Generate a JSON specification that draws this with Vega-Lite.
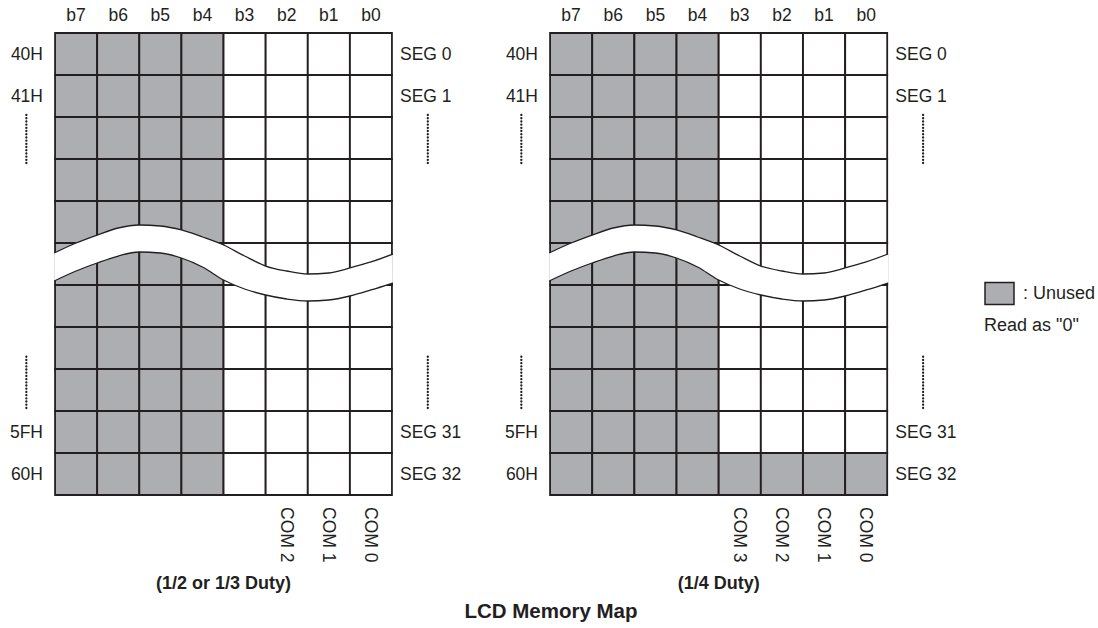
{
  "$schema": "https://vega.github.io/schema/vega-lite/v6.json",
  "width": 1098,
  "height": 628,
  "autosize": {"type": "fit", "contains": "padding"},
  "padding": 0,
  "background": "white",
  "config": {
    "view": {"stroke": null},
    "axis": {"disable": true},
    "text": {"font": "Liberation Sans", "fontSize": 17.5, "fill": "#231f20"}
  },
  "datasets": {
    "cellsA": [
      {"row":0,"bit":7,"status":"Unused"},{"row":0,"bit":6,"status":"Unused"},{"row":0,"bit":5,"status":"Unused"},{"row":0,"bit":4,"status":"Unused"},{"row":0,"bit":3,"status":"Used"},{"row":0,"bit":2,"status":"Used"},{"row":0,"bit":1,"status":"Used"},{"row":0,"bit":0,"status":"Used"},
      {"row":1,"bit":7,"status":"Unused"},{"row":1,"bit":6,"status":"Unused"},{"row":1,"bit":5,"status":"Unused"},{"row":1,"bit":4,"status":"Unused"},{"row":1,"bit":3,"status":"Used"},{"row":1,"bit":2,"status":"Used"},{"row":1,"bit":1,"status":"Used"},{"row":1,"bit":0,"status":"Used"},
      {"row":2,"bit":7,"status":"Unused"},{"row":2,"bit":6,"status":"Unused"},{"row":2,"bit":5,"status":"Unused"},{"row":2,"bit":4,"status":"Unused"},{"row":2,"bit":3,"status":"Used"},{"row":2,"bit":2,"status":"Used"},{"row":2,"bit":1,"status":"Used"},{"row":2,"bit":0,"status":"Used"},
      {"row":3,"bit":7,"status":"Unused"},{"row":3,"bit":6,"status":"Unused"},{"row":3,"bit":5,"status":"Unused"},{"row":3,"bit":4,"status":"Unused"},{"row":3,"bit":3,"status":"Used"},{"row":3,"bit":2,"status":"Used"},{"row":3,"bit":1,"status":"Used"},{"row":3,"bit":0,"status":"Used"},
      {"row":4,"bit":7,"status":"Unused"},{"row":4,"bit":6,"status":"Unused"},{"row":4,"bit":5,"status":"Unused"},{"row":4,"bit":4,"status":"Unused"},{"row":4,"bit":3,"status":"Used"},{"row":4,"bit":2,"status":"Used"},{"row":4,"bit":1,"status":"Used"},{"row":4,"bit":0,"status":"Used"},
      {"row":5,"bit":7,"status":"Unused"},{"row":5,"bit":6,"status":"Unused"},{"row":5,"bit":5,"status":"Unused"},{"row":5,"bit":4,"status":"Unused"},{"row":5,"bit":3,"status":"Used"},{"row":5,"bit":2,"status":"Used"},{"row":5,"bit":1,"status":"Used"},{"row":5,"bit":0,"status":"Used"},
      {"row":6,"bit":7,"status":"Unused"},{"row":6,"bit":6,"status":"Unused"},{"row":6,"bit":5,"status":"Unused"},{"row":6,"bit":4,"status":"Unused"},{"row":6,"bit":3,"status":"Used"},{"row":6,"bit":2,"status":"Used"},{"row":6,"bit":1,"status":"Used"},{"row":6,"bit":0,"status":"Used"},
      {"row":7,"bit":7,"status":"Unused"},{"row":7,"bit":6,"status":"Unused"},{"row":7,"bit":5,"status":"Unused"},{"row":7,"bit":4,"status":"Unused"},{"row":7,"bit":3,"status":"Used"},{"row":7,"bit":2,"status":"Used"},{"row":7,"bit":1,"status":"Used"},{"row":7,"bit":0,"status":"Used"},
      {"row":8,"bit":7,"status":"Unused"},{"row":8,"bit":6,"status":"Unused"},{"row":8,"bit":5,"status":"Unused"},{"row":8,"bit":4,"status":"Unused"},{"row":8,"bit":3,"status":"Used"},{"row":8,"bit":2,"status":"Used"},{"row":8,"bit":1,"status":"Used"},{"row":8,"bit":0,"status":"Used"},
      {"row":9,"bit":7,"status":"Unused"},{"row":9,"bit":6,"status":"Unused"},{"row":9,"bit":5,"status":"Unused"},{"row":9,"bit":4,"status":"Unused"},{"row":9,"bit":3,"status":"Used"},{"row":9,"bit":2,"status":"Used"},{"row":9,"bit":1,"status":"Used"},{"row":9,"bit":0,"status":"Used"},
      {"row":10,"bit":7,"status":"Unused"},{"row":10,"bit":6,"status":"Unused"},{"row":10,"bit":5,"status":"Unused"},{"row":10,"bit":4,"status":"Unused"},{"row":10,"bit":3,"status":"Used"},{"row":10,"bit":2,"status":"Used"},{"row":10,"bit":1,"status":"Used"},{"row":10,"bit":0,"status":"Used"}
    ],
    "cellsB": [
      {"row":0,"bit":7,"status":"Unused"},{"row":0,"bit":6,"status":"Unused"},{"row":0,"bit":5,"status":"Unused"},{"row":0,"bit":4,"status":"Unused"},{"row":0,"bit":3,"status":"Used"},{"row":0,"bit":2,"status":"Used"},{"row":0,"bit":1,"status":"Used"},{"row":0,"bit":0,"status":"Used"},
      {"row":1,"bit":7,"status":"Unused"},{"row":1,"bit":6,"status":"Unused"},{"row":1,"bit":5,"status":"Unused"},{"row":1,"bit":4,"status":"Unused"},{"row":1,"bit":3,"status":"Used"},{"row":1,"bit":2,"status":"Used"},{"row":1,"bit":1,"status":"Used"},{"row":1,"bit":0,"status":"Used"},
      {"row":2,"bit":7,"status":"Unused"},{"row":2,"bit":6,"status":"Unused"},{"row":2,"bit":5,"status":"Unused"},{"row":2,"bit":4,"status":"Unused"},{"row":2,"bit":3,"status":"Used"},{"row":2,"bit":2,"status":"Used"},{"row":2,"bit":1,"status":"Used"},{"row":2,"bit":0,"status":"Used"},
      {"row":3,"bit":7,"status":"Unused"},{"row":3,"bit":6,"status":"Unused"},{"row":3,"bit":5,"status":"Unused"},{"row":3,"bit":4,"status":"Unused"},{"row":3,"bit":3,"status":"Used"},{"row":3,"bit":2,"status":"Used"},{"row":3,"bit":1,"status":"Used"},{"row":3,"bit":0,"status":"Used"},
      {"row":4,"bit":7,"status":"Unused"},{"row":4,"bit":6,"status":"Unused"},{"row":4,"bit":5,"status":"Unused"},{"row":4,"bit":4,"status":"Unused"},{"row":4,"bit":3,"status":"Used"},{"row":4,"bit":2,"status":"Used"},{"row":4,"bit":1,"status":"Used"},{"row":4,"bit":0,"status":"Used"},
      {"row":5,"bit":7,"status":"Unused"},{"row":5,"bit":6,"status":"Unused"},{"row":5,"bit":5,"status":"Unused"},{"row":5,"bit":4,"status":"Unused"},{"row":5,"bit":3,"status":"Used"},{"row":5,"bit":2,"status":"Used"},{"row":5,"bit":1,"status":"Used"},{"row":5,"bit":0,"status":"Used"},
      {"row":6,"bit":7,"status":"Unused"},{"row":6,"bit":6,"status":"Unused"},{"row":6,"bit":5,"status":"Unused"},{"row":6,"bit":4,"status":"Unused"},{"row":6,"bit":3,"status":"Used"},{"row":6,"bit":2,"status":"Used"},{"row":6,"bit":1,"status":"Used"},{"row":6,"bit":0,"status":"Used"},
      {"row":7,"bit":7,"status":"Unused"},{"row":7,"bit":6,"status":"Unused"},{"row":7,"bit":5,"status":"Unused"},{"row":7,"bit":4,"status":"Unused"},{"row":7,"bit":3,"status":"Used"},{"row":7,"bit":2,"status":"Used"},{"row":7,"bit":1,"status":"Used"},{"row":7,"bit":0,"status":"Used"},
      {"row":8,"bit":7,"status":"Unused"},{"row":8,"bit":6,"status":"Unused"},{"row":8,"bit":5,"status":"Unused"},{"row":8,"bit":4,"status":"Unused"},{"row":8,"bit":3,"status":"Used"},{"row":8,"bit":2,"status":"Used"},{"row":8,"bit":1,"status":"Used"},{"row":8,"bit":0,"status":"Used"},
      {"row":9,"bit":7,"status":"Unused"},{"row":9,"bit":6,"status":"Unused"},{"row":9,"bit":5,"status":"Unused"},{"row":9,"bit":4,"status":"Unused"},{"row":9,"bit":3,"status":"Used"},{"row":9,"bit":2,"status":"Used"},{"row":9,"bit":1,"status":"Used"},{"row":9,"bit":0,"status":"Used"},
      {"row":10,"bit":7,"status":"Unused"},{"row":10,"bit":6,"status":"Unused"},{"row":10,"bit":5,"status":"Unused"},{"row":10,"bit":4,"status":"Unused"},{"row":10,"bit":3,"status":"Unused"},{"row":10,"bit":2,"status":"Unused"},{"row":10,"bit":1,"status":"Unused"},{"row":10,"bit":0,"status":"Unused"}
    ],
    "rows": [
      {"row":0,"addr":"40H","seg":"SEG 0"},
      {"row":1,"addr":"41H","seg":"SEG 1"},
      {"row":9,"addr":"5FH","seg":"SEG 31"},
      {"row":10,"addr":"60H","seg":"SEG 32"}
    ],
    "bits": [
      {"bit":7,"label":"b7"},{"bit":6,"label":"b6"},{"bit":5,"label":"b5"},{"bit":4,"label":"b4"},
      {"bit":3,"label":"b3"},{"bit":2,"label":"b2"},{"bit":1,"label":"b1"},{"bit":0,"label":"b0"}
    ],
    "comA": [
      {"bit":2,"com":"COM 2"},{"bit":1,"com":"COM 1"},{"bit":0,"com":"COM 0"}
    ],
    "comB": [
      {"bit":3,"com":"COM 3"},{"bit":2,"com":"COM 2"},{"bit":1,"com":"COM 1"},{"bit":0,"com":"COM 0"}
    ],
    "wave": [
      {"x":7.52,"top":4.738,"bottom":5.405},
      {"x":7,"top":4.5,"bottom":5.167},
      {"x":6.5,"top":4.31,"bottom":4.976},
      {"x":6,"top":4.143,"bottom":4.81},
      {"x":5.5,"top":4.071,"bottom":4.714},
      {"x":5,"top":4.095,"bottom":4.738},
      {"x":4.5,"top":4.19,"bottom":4.857},
      {"x":4,"top":4.357,"bottom":5.071},
      {"x":3.5,"top":4.548,"bottom":5.381},
      {"x":3,"top":4.81,"bottom":5.595},
      {"x":2.5,"top":5.048,"bottom":5.738},
      {"x":2,"top":5.167,"bottom":5.833},
      {"x":1.5,"top":5.238,"bottom":5.881},
      {"x":1,"top":5.214,"bottom":5.857},
      {"x":0.5,"top":5.095,"bottom":5.762},
      {"x":0,"top":4.952,"bottom":5.619},
      {"x":-0.52,"top":4.762,"bottom":5.452}
    ]
  },
  "resolve": {"scale": {"x": "independent"}},
  "layer": [
    {
      "layer": [
        {
          "data": {"name": "cellsA"},
          "mark": {"type": "square", "size": 1764, "stroke": "#231f20", "strokeWidth": 1.8, "opacity": 1},
          "encoding": {
            "x": {"field": "bit", "type": "quantitative", "scale": {"domain": [-17.2596, 8.8056], "reverse": true, "nice": false, "zero": false}, "axis": null},
            "y": {"field": "row", "type": "quantitative", "scale": {"domain": [-1.2857, 13.6667], "reverse": true, "nice": false, "zero": false}, "axis": null},
            "color": {
              "field": "status", "type": "nominal",
              "scale": {"domain": ["Unused", "Used"], "range": ["#adaeb1", "#ffffff"]},
              "legend": {
                "values": ["Unused"], "orient": "none", "legendX": 984, "legendY": 278,
                "title": "Read as \"0\"", "titleOrient": "bottom", "titleAnchor": "start",
                "titleFont": "Liberation Sans", "titleFontSize": 18, "titleFontWeight": "normal", "titleColor": "#231f20", "titlePadding": 9,
                "labelFont": "Liberation Sans", "labelFontSize": 18, "labelColor": "#231f20", "labelExpr": "': ' + datum.label", "labelOffset": 8,
                "symbolType": "M-1,-0.76H1V0.76H-1Z", "symbolSize": 841, "symbolStrokeColor": "#231f20", "symbolStrokeWidth": 1.5, "symbolOpacity": 1,
                "padding": 0
              }
            }
          }
        },
        {
          "data": {"name": "wave"},
          "mark": {"type": "area", "fill": "#ffffff", "interpolate": "monotone", "opacity": 1},
          "encoding": {
            "x": {"field": "x", "type": "quantitative", "axis": null},
            "y": {"field": "top", "type": "quantitative", "axis": null},
            "y2": {"field": "bottom"}
          }
        },
        {
          "data": {"name": "wave"},
          "mark": {"type": "line", "interpolate": "monotone", "stroke": "#231f20", "strokeWidth": 1.3},
          "encoding": {
            "x": {"field": "x", "type": "quantitative", "axis": null},
            "y": {"field": "top", "type": "quantitative", "axis": null}
          }
        },
        {
          "data": {"name": "wave"},
          "mark": {"type": "line", "interpolate": "monotone", "stroke": "#231f20", "strokeWidth": 1.3},
          "encoding": {
            "x": {"field": "x", "type": "quantitative", "axis": null},
            "y": {"field": "bottom", "type": "quantitative", "axis": null}
          }
        },
        {
          "data": {"name": "bits"},
          "mark": {"type": "text", "align": "center", "baseline": "alphabetic"},
          "encoding": {
            "x": {"field": "bit", "type": "quantitative", "axis": null},
            "y": {"datum": -0.793},
            "text": {"field": "label"}
          }
        },
        {
          "data": {"name": "rows"},
          "mark": {"type": "text", "align": "right", "baseline": "alphabetic", "dx": -12, "dy": 6},
          "encoding": {
            "x": {"datum": 7.5},
            "y": {"field": "row", "type": "quantitative", "axis": null},
            "text": {"field": "addr"}
          }
        },
        {
          "data": {"name": "rows"},
          "mark": {"type": "text", "align": "left", "baseline": "alphabetic", "dx": 8, "dy": 6},
          "encoding": {
            "x": {"datum": -0.5},
            "y": {"field": "row", "type": "quantitative", "axis": null},
            "text": {"field": "seg"}
          }
        },
        {
          "data": {"values": [{}]},
          "mark": {"type": "rule", "strokeDash": [0.1, 3.1], "strokeCap": "round", "strokeWidth": 2.3, "color": "#231f20"},
          "encoding": {"x": {"datum": 8.18}, "y": {"datum": 1.452}, "y2": {"datum": 2.667}}
        },
        {
          "data": {"values": [{}]},
          "mark": {"type": "rule", "strokeDash": [0.1, 3.1], "strokeCap": "round", "strokeWidth": 2.3, "color": "#231f20"},
          "encoding": {"x": {"datum": 8.18}, "y": {"datum": 7.207}, "y2": {"datum": 8.429}}
        },
        {
          "data": {"values": [{}]},
          "mark": {"type": "rule", "strokeDash": [0.1, 3.1], "strokeCap": "round", "strokeWidth": 2.3, "color": "#231f20"},
          "encoding": {"x": {"datum": -1.35}, "y": {"datum": 1.452}, "y2": {"datum": 2.667}}
        },
        {
          "data": {"values": [{}]},
          "mark": {"type": "rule", "strokeDash": [0.1, 3.1], "strokeCap": "round", "strokeWidth": 2.3, "color": "#231f20"},
          "encoding": {"x": {"datum": -1.35}, "y": {"datum": 7.207}, "y2": {"datum": 8.429}}
        },
        {
          "data": {"name": "comA"},
          "mark": {"type": "text", "angle": 90, "align": "left", "baseline": "middle", "dy": 1},
          "encoding": {
            "x": {"field": "bit", "type": "quantitative", "axis": null},
            "y": {"datum": 10.786},
            "text": {"field": "com"}
          }
        },
        {
          "data": {"values": [{"duty": "(1/2 or 1/3 Duty)"}]},
          "mark": {"type": "text", "align": "center", "baseline": "alphabetic", "fontWeight": "bold", "fontSize": 18},
          "encoding": {"x": {"datum": 3.5}, "y": {"datum": 12.745}, "text": {"field": "duty"}}
        },
        {
          "data": {"values": [{"title": "LCD Memory Map"}]},
          "mark": {"type": "text", "align": "center", "baseline": "alphabetic", "fontWeight": "bold", "fontSize": 20.5},
          "encoding": {"x": {"datum": -4.274}, "y": {"datum": 13.436}, "text": {"field": "title"}}
        }
      ]
    },
    {
      "layer": [
        {
          "data": {"name": "cellsB"},
          "mark": {"type": "square", "size": 1764, "stroke": "#231f20", "strokeWidth": 1.8, "opacity": 1},
          "encoding": {
            "x": {"field": "bit", "type": "quantitative", "scale": {"domain": [-5.498, 20.5455], "reverse": true, "nice": false, "zero": false}, "axis": null},
            "y": {"field": "row", "type": "quantitative", "axis": null},
            "color": {"field": "status", "type": "nominal", "scale": {"domain": ["Unused", "Used"], "range": ["#adaeb1", "#ffffff"]}}
          }
        },
        {
          "data": {"name": "wave"},
          "mark": {"type": "area", "fill": "#ffffff", "interpolate": "monotone", "opacity": 1},
          "encoding": {
            "x": {"field": "x", "type": "quantitative", "axis": null},
            "y": {"field": "top", "type": "quantitative", "axis": null},
            "y2": {"field": "bottom"}
          }
        },
        {
          "data": {"name": "wave"},
          "mark": {"type": "line", "interpolate": "monotone", "stroke": "#231f20", "strokeWidth": 1.3},
          "encoding": {
            "x": {"field": "x", "type": "quantitative", "axis": null},
            "y": {"field": "top", "type": "quantitative", "axis": null}
          }
        },
        {
          "data": {"name": "wave"},
          "mark": {"type": "line", "interpolate": "monotone", "stroke": "#231f20", "strokeWidth": 1.3},
          "encoding": {
            "x": {"field": "x", "type": "quantitative", "axis": null},
            "y": {"field": "bottom", "type": "quantitative", "axis": null}
          }
        },
        {
          "data": {"name": "bits"},
          "mark": {"type": "text", "align": "center", "baseline": "alphabetic"},
          "encoding": {
            "x": {"field": "bit", "type": "quantitative", "axis": null},
            "y": {"datum": -0.793},
            "text": {"field": "label"}
          }
        },
        {
          "data": {"name": "rows"},
          "mark": {"type": "text", "align": "right", "baseline": "alphabetic", "dx": -12, "dy": 6},
          "encoding": {
            "x": {"datum": 7.5},
            "y": {"field": "row", "type": "quantitative", "axis": null},
            "text": {"field": "addr"}
          }
        },
        {
          "data": {"name": "rows"},
          "mark": {"type": "text", "align": "left", "baseline": "alphabetic", "dx": 8, "dy": 6},
          "encoding": {
            "x": {"datum": -0.5},
            "y": {"field": "row", "type": "quantitative", "axis": null},
            "text": {"field": "seg"}
          }
        },
        {
          "data": {"values": [{}]},
          "mark": {"type": "rule", "strokeDash": [0.1, 3.1], "strokeCap": "round", "strokeWidth": 2.3, "color": "#231f20"},
          "encoding": {"x": {"datum": 8.18}, "y": {"datum": 1.452}, "y2": {"datum": 2.667}}
        },
        {
          "data": {"values": [{}]},
          "mark": {"type": "rule", "strokeDash": [0.1, 3.1], "strokeCap": "round", "strokeWidth": 2.3, "color": "#231f20"},
          "encoding": {"x": {"datum": 8.18}, "y": {"datum": 7.207}, "y2": {"datum": 8.429}}
        },
        {
          "data": {"values": [{}]},
          "mark": {"type": "rule", "strokeDash": [0.1, 3.1], "strokeCap": "round", "strokeWidth": 2.3, "color": "#231f20"},
          "encoding": {"x": {"datum": -1.35}, "y": {"datum": 1.452}, "y2": {"datum": 2.667}}
        },
        {
          "data": {"values": [{}]},
          "mark": {"type": "rule", "strokeDash": [0.1, 3.1], "strokeCap": "round", "strokeWidth": 2.3, "color": "#231f20"},
          "encoding": {"x": {"datum": -1.35}, "y": {"datum": 7.207}, "y2": {"datum": 8.429}}
        },
        {
          "data": {"name": "comB"},
          "mark": {"type": "text", "angle": 90, "align": "left", "baseline": "middle", "dy": 1},
          "encoding": {
            "x": {"field": "bit", "type": "quantitative", "axis": null},
            "y": {"datum": 10.786},
            "text": {"field": "com"}
          }
        },
        {
          "data": {"values": [{"duty": "(1/4 Duty)"}]},
          "mark": {"type": "text", "align": "center", "baseline": "alphabetic", "fontWeight": "bold", "fontSize": 18},
          "encoding": {"x": {"datum": 3.5}, "y": {"datum": 12.745}, "text": {"field": "duty"}}
        }
      ]
    }
  ]
}
